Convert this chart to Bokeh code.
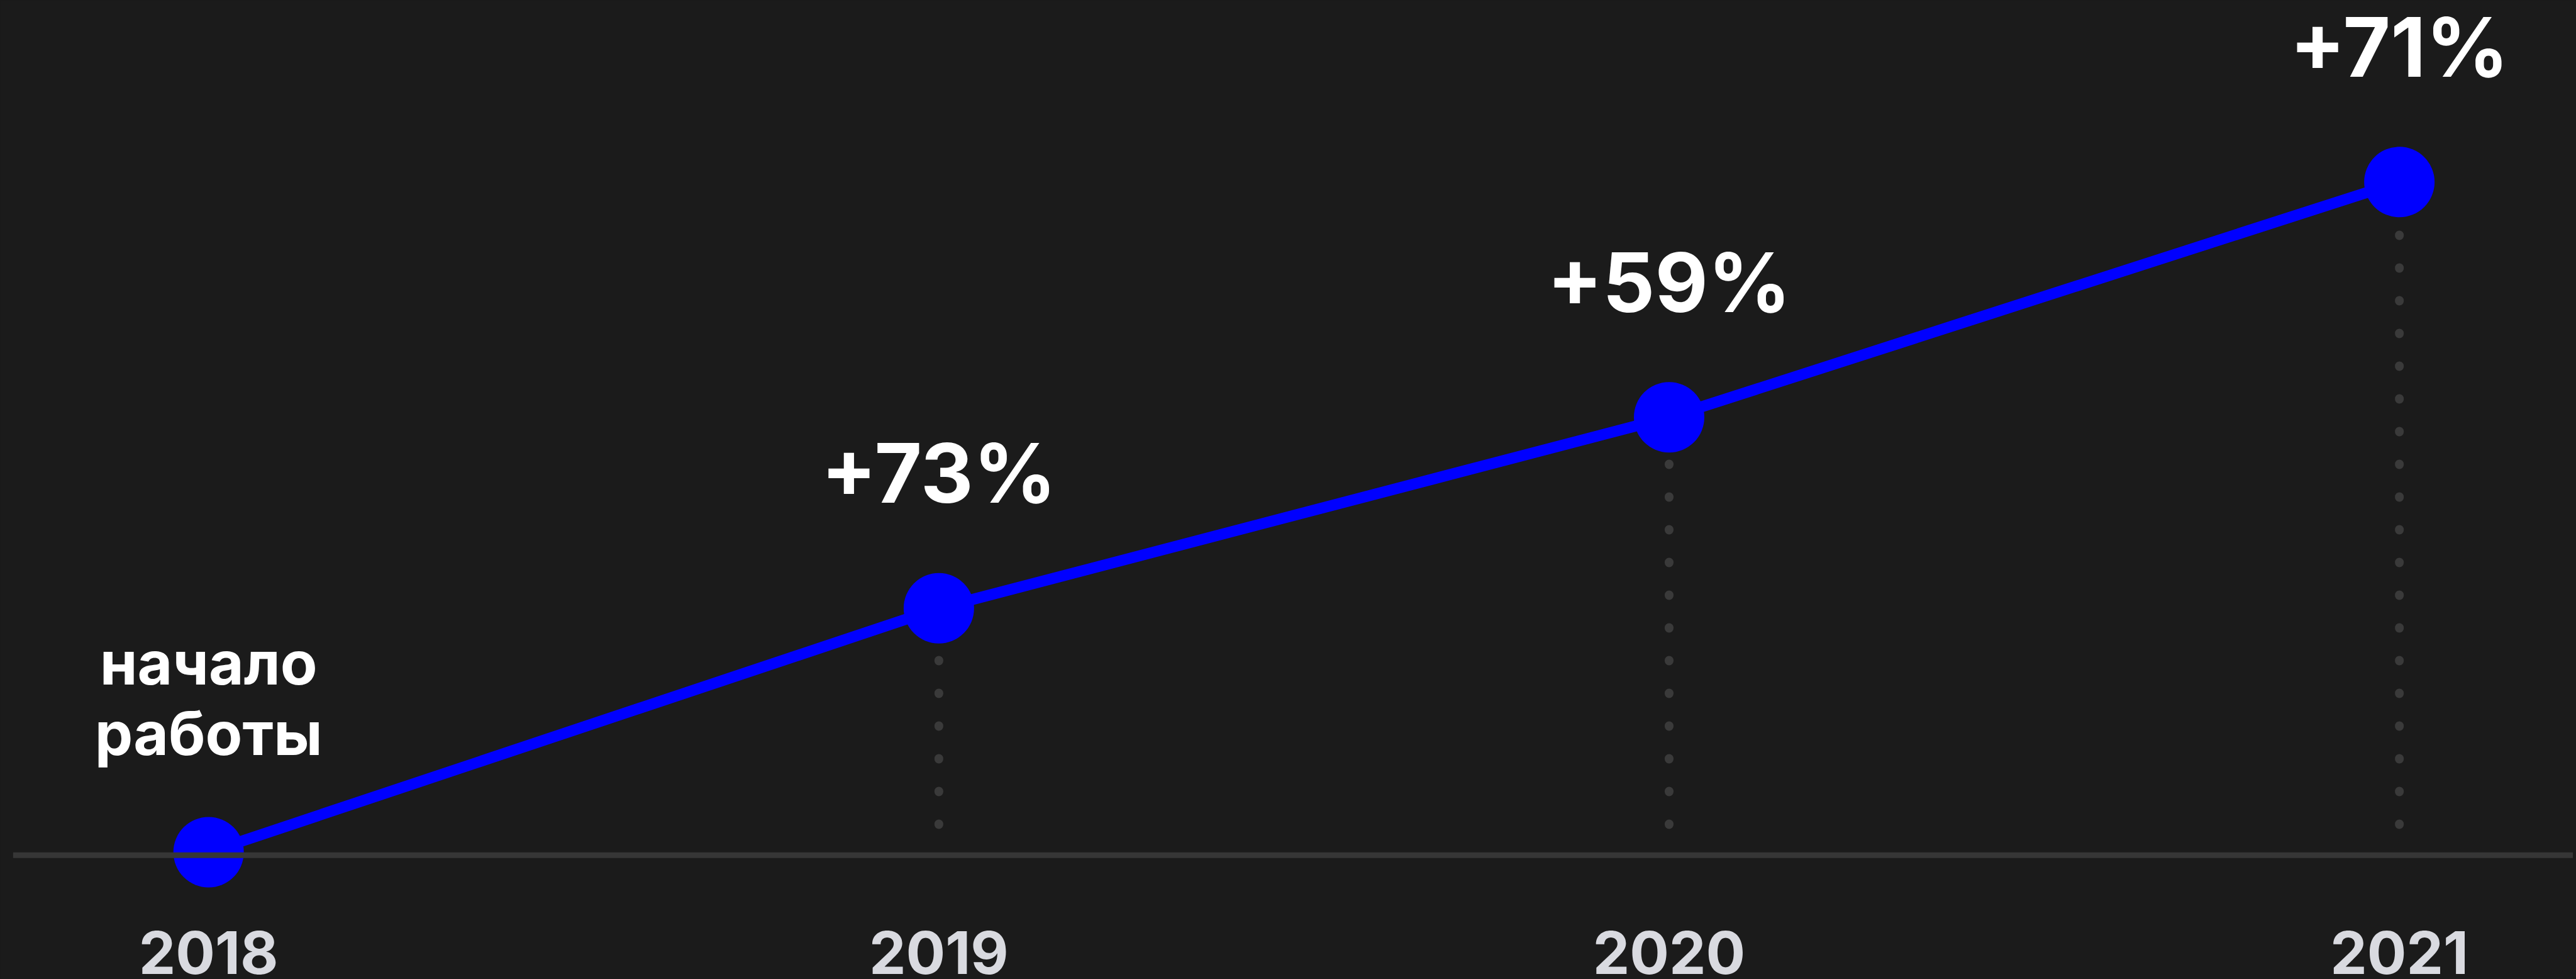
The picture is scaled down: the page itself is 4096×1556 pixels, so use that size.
from bokeh.plotting import figure
from bokeh.models import Range1d, Span
from bokeh.core.properties import value
from bokeh.embed import file_html
from bokeh.resources import INLINE

# ---- data ----
years = [2018, 2019, 2020, 2021]
year_labels = ["2018", "2019", "2020", "2021"]
levels = [0.0, 36.4, 64.9, 100.0]          # relative height of each point (top point = 100)
growth_years = [2019, 2020, 2021]
growth_levels = [36.4, 64.9, 100.0]
growth_labels = ["+73%", "+59%", "+71%"]
start_years = [2018]
start_levels = [0.0]
start_labels = ["начало\nработы"]

# ---- style ----
BG = "#1b1b1b"
BLUE = "#0000ff"
FONT = value("Inter")
W, H = 4091, 1556

p = figure(width=W, height=H, output_backend="svg", toolbar_location=None,
           x_range=Range1d(2017.732, 2021.238), y_range=Range1d(-18.97, 127.12),
           x_axis_location=None, y_axis_location=None,
           min_border_left=20, min_border_right=0, min_border_top=0, min_border_bottom=0,
           background_fill_color=BG, border_fill_color=BG, outline_line_color=None)
p.grid.visible = False

# baseline
p.add_layout(Span(location=-0.45, dimension="width", line_color="#363636", line_width=9))

# dotted drop lines
dot_start = 4.13
p.segment(x0=growth_years, y0=[dot_start] * len(growth_years), x1=growth_years, y1=growth_levels,
          line_color="#3a3a3a", line_width=14, line_dash="1 51", line_cap="round")

# main line + points
p.line(years, levels, line_color=BLUE, line_width=17.5)
p.scatter(years, levels, size=112, fill_color=BLUE, line_color=None)

# year labels
p.text(x=years, y=[-15.0] * len(years), text=year_labels, text_font=FONT,
       text_font_size="93px", text_font_style="bold", text_color="#d9dae0",
       text_align="center", text_baseline="alphabetic")

# growth labels
p.text(x=growth_years, y=growth_levels, text=growth_labels, y_offset=-215, text_font=FONT,
       text_font_size="130px", text_font_style="bold", text_color="#ffffff",
       text_align="center", text_baseline="alphabetic")

# start label
p.text(x=start_years, y=start_levels, text=start_labels, y_offset=-245, text_font=FONT,
       text_font_size="96px", text_font_style="bold", text_color="#ffffff",
       text_align="center", text_baseline="alphabetic", text_line_height=0.965)

html = file_html(p, INLINE)
html = html.replace("</head>", "<style>html, body {background-color: #1b1b1b;}</style></head>", 1)
open("out.html", "w").write(html)
